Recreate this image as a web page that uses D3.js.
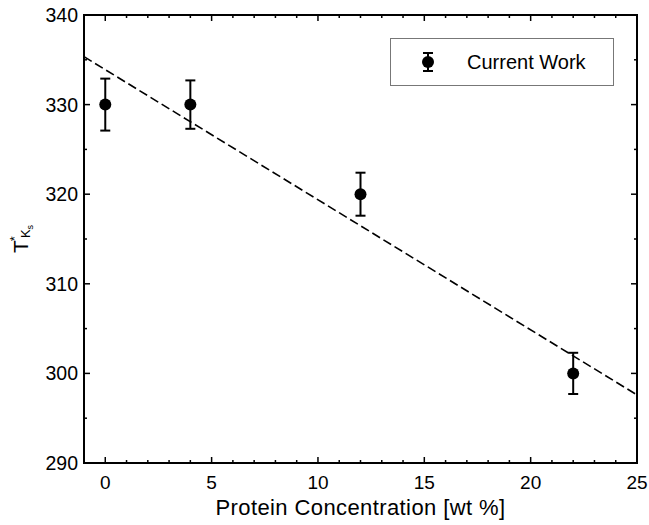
<!DOCTYPE html>
<html>
<head>
<meta charset="utf-8">
<script src="https://cdn.jsdelivr.net/npm/d3@7"></script>
<style>
  html, body { margin: 0; padding: 0; background: #fff; }
  svg text { font-family: "Liberation Sans", Arial, sans-serif; fill: #000; }
</style>
</head>
<body>
<svg id="chart" width="649" height="525"></svg>
<script>
// Measured transition temperatures vs protein concentration
const concentration = [0, 4, 12, 22];
const temperature = [330, 330, 320, 300];
const errorBars = [2.9, 2.7, 2.4, 2.3];

// Linear fit drawn across the full x range
const fitX = [-1, 25];
const fitY = [335.35, 297.6];

const xTicks = [0, 5, 10, 15, 20, 25];
const yTicks = [290, 300, 310, 320, 330, 340];
const seriesName = "Current Work";

const svg = d3.select("#chart");
const m = { left: 84, right: 12, top: 15, bottom: 62 };
const W = 649, H = 525;

const x = d3.scaleLinear().domain([-1, 25]).range([m.left, W - m.right]);
const y = d3.scaleLinear().domain([290, 340]).range([H - m.bottom, m.top]);

const x0 = x.range()[0], x1 = x.range()[1];
const y0 = y.range()[0], y1 = y.range()[1];

// Inward ticks on all four sides
const xMinor = d3.range(0, 26, 1).filter(v => v % 5 !== 0);
const yMinor = d3.range(295, 340, 10);
const ticks = svg.append("g").attr("stroke", "#000").attr("stroke-width", 1.5);
xTicks.forEach(v => {
  ticks.append("line").attr("x1", x(v)).attr("x2", x(v)).attr("y1", y0).attr("y2", y0 - 6);
  ticks.append("line").attr("x1", x(v)).attr("x2", x(v)).attr("y1", y1).attr("y2", y1 + 6);
});
xMinor.forEach(v => {
  ticks.append("line").attr("x1", x(v)).attr("x2", x(v)).attr("y1", y0).attr("y2", y0 - 3);
  ticks.append("line").attr("x1", x(v)).attr("x2", x(v)).attr("y1", y1).attr("y2", y1 + 3);
});
yTicks.forEach(v => {
  ticks.append("line").attr("y1", y(v)).attr("y2", y(v)).attr("x1", x0).attr("x2", x0 + 6);
  ticks.append("line").attr("y1", y(v)).attr("y2", y(v)).attr("x1", x1).attr("x2", x1 - 6);
});
yMinor.forEach(v => {
  ticks.append("line").attr("y1", y(v)).attr("y2", y(v)).attr("x1", x0).attr("x2", x0 + 3);
  ticks.append("line").attr("y1", y(v)).attr("y2", y(v)).attr("x1", x1).attr("x2", x1 - 3);
});

// Tick labels
svg.append("g").selectAll("text").data(xTicks).join("text")
  .attr("x", d => x(d)).attr("y", y0 + 26)
  .attr("text-anchor", "middle").attr("font-size", 19).text(d => d);
svg.append("g").selectAll("text").data(yTicks).join("text")
  .attr("x", x0 - 6).attr("y", d => y(d) + 7)
  .attr("text-anchor", "end").attr("font-size", 19.5).text(d => d);

// Fit line
svg.append("line")
  .attr("x1", x(fitX[0])).attr("y1", y(fitY[0]))
  .attr("x2", x(fitX[1])).attr("y2", y(fitY[1]))
  .attr("stroke", "#000").attr("stroke-width", 1.6)
  .attr("stroke-dasharray", "9,4");

// Error bars and points
const pts = svg.append("g");
concentration.forEach((c, i) => {
  const cx = x(c), t = temperature[i], e = errorBars[i];
  const g = pts.append("g").attr("stroke", "#000").attr("stroke-width", 2);
  g.append("line").attr("x1", cx).attr("x2", cx).attr("y1", y(t + e)).attr("y2", y(t - e));
  g.append("line").attr("x1", cx - 5).attr("x2", cx + 5).attr("y1", y(t + e)).attr("y2", y(t + e));
  g.append("line").attr("x1", cx - 5).attr("x2", cx + 5).attr("y1", y(t - e)).attr("y2", y(t - e));
  pts.append("circle").attr("cx", cx).attr("cy", y(t)).attr("r", 6).attr("fill", "#000");
});

// Frame
svg.append("rect").attr("x", x0).attr("y", y1)
  .attr("width", x1 - x0).attr("height", y0 - y1)
  .attr("fill", "none").attr("stroke", "#000").attr("stroke-width", 2);

// Legend
const lg = svg.append("g");
lg.append("rect").attr("x", 390.5).attr("y", 38.5).attr("width", 223).attr("height", 47)
  .attr("fill", "#fff").attr("stroke", "#777").attr("stroke-width", 1);
const lx = 428, ly = 62;
const lgm = lg.append("g").attr("stroke", "#000").attr("stroke-width", 2);
lgm.append("line").attr("x1", lx).attr("x2", lx).attr("y1", ly - 9).attr("y2", ly + 9);
lgm.append("line").attr("x1", lx - 5).attr("x2", lx + 5).attr("y1", ly - 9).attr("y2", ly - 9);
lgm.append("line").attr("x1", lx - 5).attr("x2", lx + 5).attr("y1", ly + 9).attr("y2", ly + 9);
lg.append("circle").attr("cx", lx).attr("cy", ly).attr("r", 6).attr("fill", "#000");
lg.append("text").attr("x", 467).attr("y", ly + 7).attr("font-size", 20).text(seriesName);

// Axis titles
svg.append("text").attr("x", (x0 + x1) / 2).attr("y", 515)
  .attr("text-anchor", "middle").attr("font-size", 22).attr("letter-spacing", 0.4)
  .text("Protein Concentration [wt %]");

const yl = svg.append("text")
  .attr("transform", "translate(28,253) rotate(-90)")
  .attr("font-size", 21);
yl.append("tspan").text("T");
yl.append("tspan").attr("font-size", 13).attr("dy", -9).attr("dx", -1).text("*");
yl.append("tspan").attr("font-size", 13).attr("dy", 11).attr("dx", -2).text("K");
yl.append("tspan").attr("font-size", 9).attr("dy", 3).text("s");
</script>
</body>
</html>
